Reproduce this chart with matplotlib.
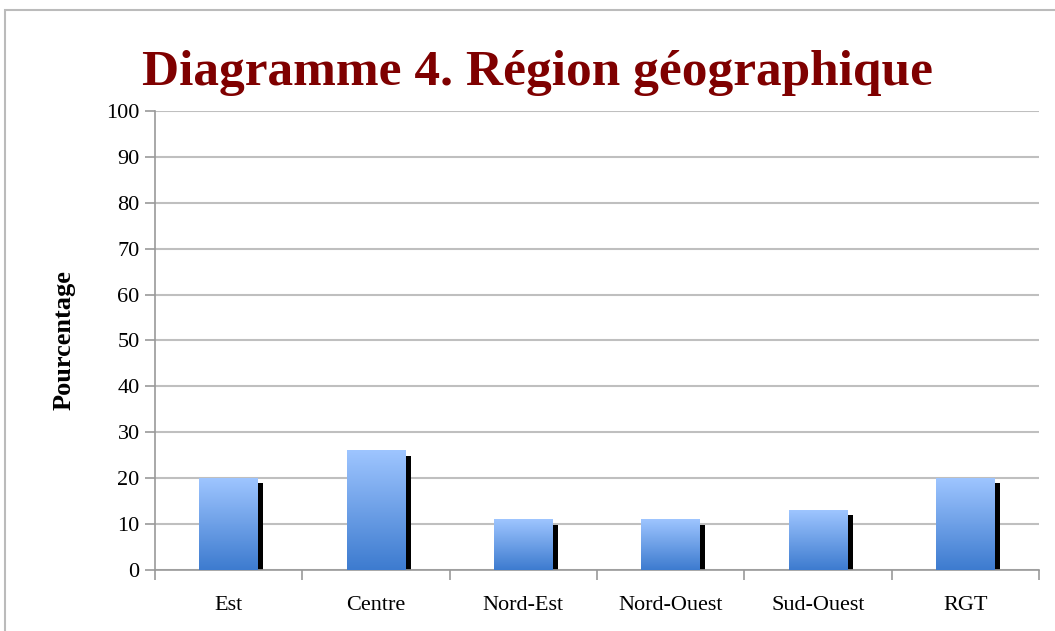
import matplotlib.pyplot as plt
import numpy as np
from matplotlib.colors import LinearSegmentedColormap
from matplotlib.patches import Rectangle

# Données du diagramme
regions = ['Est', 'Centre', 'Nord-Est', 'Nord-Ouest', 'Sud-Ouest', 'RGT']
pourcentages = [20, 26, 11, 11, 13, 20]

plt.rcParams['font.family'] = ['Liberation Serif', 'DejaVu Serif']

fig = plt.figure(figsize=(10.55, 6.31), dpi=100)
ax = fig.add_axes([0.1469, 0.0967, 0.8379, 0.7274])

# cadre gris autour du graphique
fig.patches.append(Rectangle((0.005, -0.05), 1.2, 1.034, transform=fig.transFigure,
                             fill=False, edgecolor='#BBBBBB', linewidth=1.5))

largeur = 0.40
x = np.arange(len(regions))
degrade = LinearSegmentedColormap.from_list('bleu', ['#3D7BCF', '#9EC5FF'])
grad = np.linspace(0, 1, 256).reshape(-1, 1)

# ombre noire décalée à droite
ax.bar(x + 0.035, np.array(pourcentages) - 1.1, largeur, color='black', zorder=2)
barres = ax.bar(x, pourcentages, largeur, color='#6FA0E8', zorder=3)
for b in barres:
    x0, y0 = b.get_x(), b.get_y()
    ax.imshow(grad, cmap=degrade, origin='lower', aspect='auto', zorder=4,
              extent=(x0, x0 + b.get_width(), y0, y0 + b.get_height()))

ax.set_xlim(-0.5, len(regions) - 0.5)
ax.set_ylim(0, 100)
ax.set_yticks(range(0, 101, 10))
ax.set_xticks(x)
ax.set_xticklabels(regions, fontsize=16)
ax.set_xticks(np.arange(-0.5, len(regions), 1), minor=True)
ax.tick_params(axis='x', which='major', length=0, pad=19)
ax.tick_params(axis='x', which='minor', length=7, color='#999999', width=1.2)
ax.tick_params(axis='y', labelsize=16, length=7, color='#999999', width=1.2, pad=4)

ax.grid(axis='y', color='#BFBFBF', linewidth=1.5, zorder=0)
ax.set_axisbelow(True)
for s in ['top', 'right']:
    ax.spines[s].set_visible(False)
for s in ['left', 'bottom']:
    ax.spines[s].set_color('#999999')
    ax.spines[s].set_linewidth(1.2)

ax.set_ylabel('Pourcentage', fontsize=19, fontweight='bold', labelpad=22)
fig.text(0.135, 0.885, 'Diagramme 4. Région géographique', fontsize=37,
         fontweight='bold', color='#7F0000', va='center', ha='left')

fig.savefig('out.png', dpi=100)
